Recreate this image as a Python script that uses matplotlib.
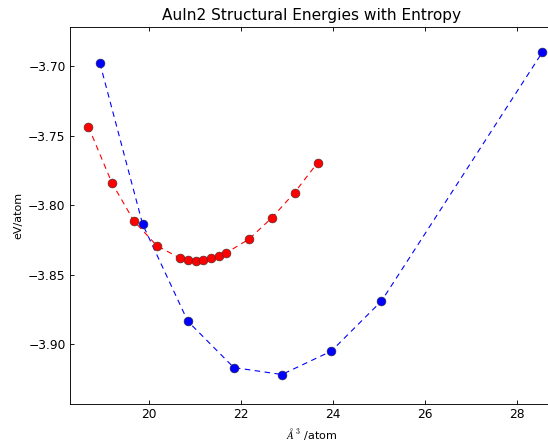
import matplotlib
matplotlib.use("Agg")
import matplotlib.pyplot as plt
from matplotlib.ticker import FuncFormatter

# Volumes (A^3/atom) and energies (eV/atom)
vol_static = [18.93, 19.86, 20.84, 21.84, 22.885, 23.96, 25.05, 28.55]
e_static = [-3.698, -3.8139, -3.8835, -3.9168, -3.9218, -3.905, -3.869, -3.690]

vol_entropy = [18.68, 19.19, 19.67, 20.17, 20.67, 20.84, 21.01, 21.17,
               21.34, 21.51, 21.67, 22.17, 22.66, 23.16, 23.66]
e_entropy = [-3.7437, -3.784, -3.8115, -3.8293, -3.8381, -3.8393, -3.8401, -3.8393,
             -3.8381, -3.8367, -3.8345, -3.8245, -3.8094, -3.7911, -3.7696]

plt.rcParams["mathtext.fontset"] = "cm"

fig = plt.figure(figsize=(548 / 80, 442 / 80), dpi=80)
# right edge of the axes runs a few pixels past the figure (cropped like the original)
ax = fig.add_axes([70 / 548, 38 / 442, 484 / 548, 377 / 442])

ax.plot(vol_static, e_static, "o--", color="#0000ff", lw=1.0, ms=8,
        mec="#333333", mew=0.5, dashes=(5, 4))
ax.plot(vol_entropy, e_entropy, "o--", color="#ff0000", lw=1.0, ms=8,
        mec="#333333", mew=0.5, dashes=(5, 4))

ax.set_xlim(18.28, 28.80)
ax.set_ylim(-3.943, -3.672)
ax.set_xticks([20, 22, 24, 26, 28])
ax.set_yticks([-3.90, -3.85, -3.80, -3.75, -3.70])
ax.yaxis.set_major_formatter(FuncFormatter(lambda v, p: ("%.2f" % v).replace("-", "\u2212")))
ax.tick_params(direction="in", top=True, right=True, labelsize=11, length=4, pad=4)

ax.set_title("AuIn2 Structural Energies with Entropy", fontsize=13.8)
ax.set_xlabel(r"$\AA^3$ /atom", fontsize=10)
ax.set_ylabel("eV/atom", fontsize=10)

fig.savefig("out.png", dpi=80)
